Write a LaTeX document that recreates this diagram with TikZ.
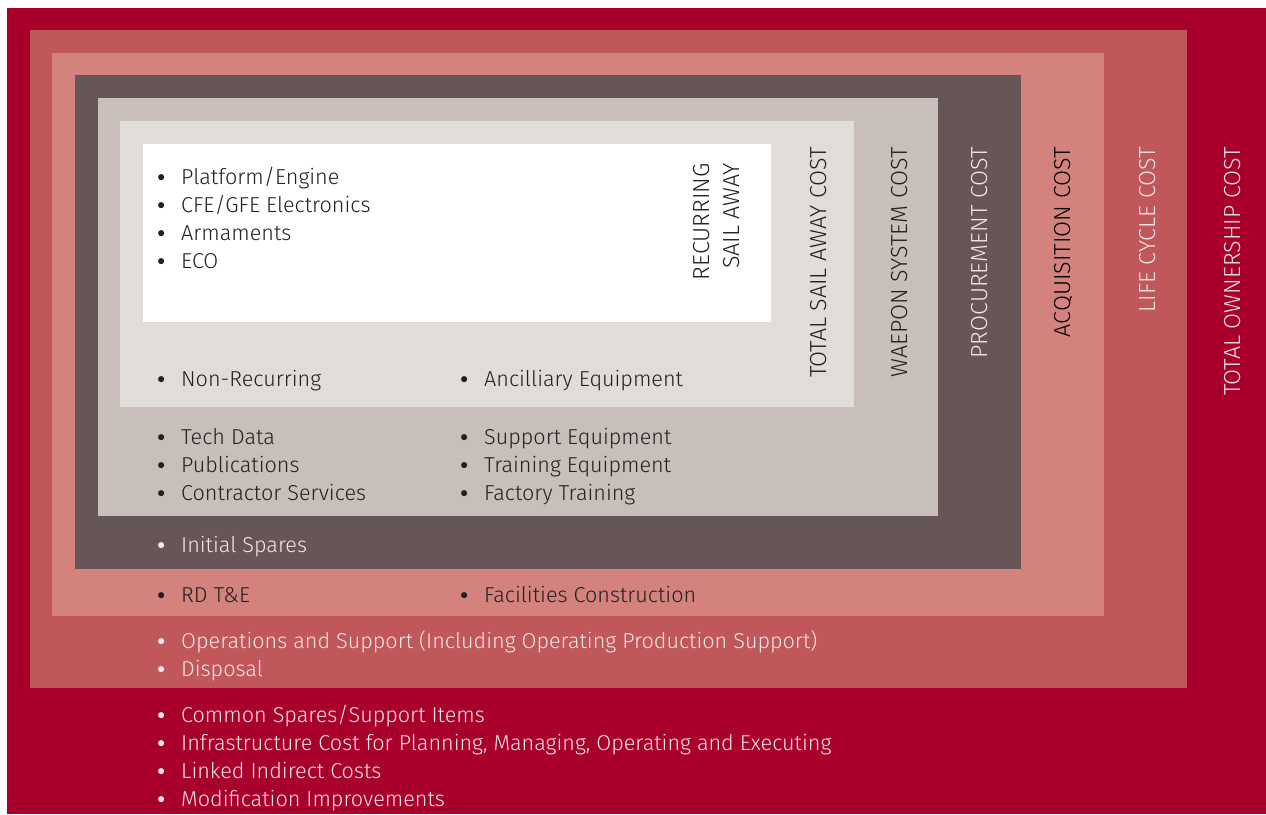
\documentclass[tikz,border=0pt]{standalone}
\usepackage{fontspec}
\setmainfont{Fira Sans Light}

\definecolor{ownred}{HTML}{A8002A}
\definecolor{liferose}{HTML}{C0575A}
\definecolor{acqpink}{HTML}{D3827E}
\definecolor{procbrown}{HTML}{675657}
\definecolor{weapgray}{HTML}{C8BEBA}
\definecolor{sailgray}{HTML}{E0DCD9}
\definecolor{inkdark}{HTML}{222020}
\definecolor{inklight}{HTML}{F4E6E6}

% bullet hung to the left of the item text
\newcommand{\bul}{\llap{\raisebox{2.5pt}{\scalebox{0.75}{$\bullet$}}\hspace{16pt}}}

\begin{document}
\begin{tikzpicture}[x=1pt, y=-1pt,
    item/.style={anchor=base west, inner sep=0pt, font=\fontsize{21.6}{28}\selectfont},
    tag/.style={rotate=90, anchor=base east, inner sep=0pt, font=\fontsize{23.2}{30}\selectfont}]

    \useasboundingbox (0,0) rectangle (1266,814);

    % nested cost layers, outermost first
    \fill[ownred]    (7,8)     rectangle (1266,814);
    \fill[liferose]  (30,30)   rectangle (1187,688);
    \fill[acqpink]   (52,53)   rectangle (1104,616);
    \fill[procbrown] (75,75)   rectangle (1021,569);
    \fill[weapgray]  (98,98)   rectangle (938,516);
    \fill[sailgray]  (120,121) rectangle (854,407);
    \fill[white]     (143,144) rectangle (771,322);

    % recurring sail away
    \node[item, text=inkdark] (platform) at (181,184) {\bul Platform/Engine};
    \node[item, text=inkdark] (cfe)      at (181,212) {\bul CFE/GFE Electronics};
    \node[item, text=inkdark] (arms)     at (181,240) {\bul Armaments};
    \node[item, text=inkdark] (eco)      at (181,268) {\bul ECO};

    % total sail away
    \node[item, text=inkdark] (nonrec)   at (181,386) {\bul Non-Recurring};
    \node[item, text=inkdark] (ancil)    at (484,386) {\bul Ancilliary Equipment};

    % weapon system
    \node[item, text=inkdark] (tech)     at (181,444) {\bul Tech Data};
    \node[item, text=inkdark] (pubs)     at (181,472) {\bul Publications};
    \node[item, text=inkdark] (contract) at (181,500) {\bul Contractor Services};
    \node[item, text=inkdark] (support)  at (484,444) {\bul Support Equipment};
    \node[item, text=inkdark] (trainEq)  at (484,472) {\bul Training Equipment};
    \node[item, text=inkdark] (factory)  at (484,500) {\bul Factory Training};

    % procurement
    \node[item, text=inklight] (spares)  at (181,552) {\bul Initial Spares};

    % acquisition
    \node[item, text=inkdark] (rdte)     at (181,602) {\bul RD T\&E};
    \node[item, text=inkdark] (facil)    at (484,602) {\bul Facilities Construction};

    % life cycle
    \node[item, text=inklight] (ops)     at (181,648) {\bul Operations and Support (Including Operating Production Support)};
    \node[item, text=inklight] (disp)    at (181,676) {\bul Disposal};

    % total ownership
    \node[item, text=inklight] (common)  at (181,722) {\bul Common Spares/Support Items};
    \node[item, text=inklight] (infra)   at (181,750) {\bul Infrastructure Cost for Planning, Managing, Operating and Executing};
    \node[item, text=inklight] (linked)  at (181,778) {\bul Linked Indirect Costs};
    \node[item, text=inklight] (modif)   at (181,806) {\bul Modification Improvements};

    % layer titles
    \node[tag, anchor=north east, align=right, text=inkdark] (recurring) at (693,163) {RECURRING\\SAIL AWAY};
    \node[tag, text=inkdark]  (sailaway)  at (826,147)  {TOTAL SAIL AWAY COST};
    \node[tag, text=inkdark]  (weapon)    at (907,147)  {WAEPON SYSTEM COST};
    \node[tag, text=inklight] (procure)   at (987,147)  {PROCUREMENT COST};
    \node[tag, text=black]    (acquire)   at (1070,147) {ACQUISITION COST};
    \node[tag, text=inklight] (lifecycle) at (1155,147) {LIFE CYCLE COST};
    \node[tag, text=inklight] (ownership) at (1240,147) {TOTAL OWNERSHIP COST};

\end{tikzpicture}
\end{document}
